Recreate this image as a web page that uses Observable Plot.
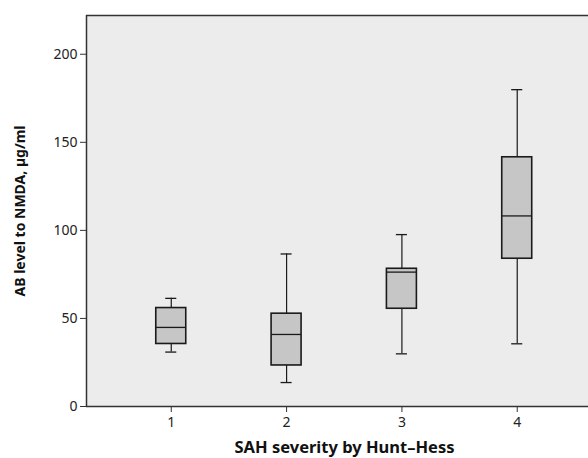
<!DOCTYPE html>
<html>
<head>
<meta charset="utf-8">
<script src="https://cdn.jsdelivr.net/npm/d3@7"></script>
<script src="https://cdn.jsdelivr.net/npm/@observablehq/plot@0.6"></script>
<style>
  html, body { margin: 0; padding: 0; background: #fff; }
  #chart svg { display: block; }
</style>
</head>
<body>
<div id="chart"></div>
<script>
// Hunt–Hess grade categories
const grades = [1, 2, 3, 4];
// Box-plot statistics (µg/ml)
const whiskerLow  = [30.9, 13.6, 29.9, 35.6];
const q1          = [35.5, 23.3, 55.5, 83.9];
const median      = [44.9, 40.9, 76.3, 108.2];
const q3          = [55.9, 52.7, 78.2, 141.5];
const whiskerHigh = [61.4, 86.6, 97.6, 179.9];
const yTicks = [0, 50, 100, 150, 200];
const xLabel = "SAH severity by Hunt\u2013Hess";
const yLabel = "AB level to NMDA, \u00b5g/ml";

const boxHalf = 0.13;   // half box width in grade units
const capHalf = 0.048;  // half whisker-cap width in grade units

const data = grades.map((g, i) => ({
  g, lo: whiskerLow[i], q1: q1[i], med: median[i], q3: q3[i], hi: whiskerHigh[i]
}));

const font = "'Noto Sans', 'Open Sans', sans-serif";
const ink = "#1a1a1a";

const chart = Plot.plot({
  width: 588,
  height: 458,
  marginLeft: 86,
  marginTop: 15,
  marginRight: 0,
  marginBottom: 52,
  style: { fontFamily: font, fontSize: "14px", color: "#222", background: "#fff" },
  x: { domain: [0.265, 4.618] },
  y: { domain: [0, 222] },
  marks: [
    Plot.frame({ fill: "#ececec", stroke: "none" }),
    Plot.ruleY([222], { stroke: "#333", strokeWidth: 1.5 }),
    Plot.ruleX([0.265], { stroke: "#333", strokeWidth: 1.5 }),
    Plot.ruleY([0], { stroke: "#333", strokeWidth: 1.5 }),
    // whiskers
    Plot.ruleX(data, { x: "g", y1: "lo", y2: "hi", stroke: ink, strokeWidth: 1.2 }),
    // caps
    Plot.ruleY(data, { y: "lo", x1: d => d.g - capHalf, x2: d => d.g + capHalf, stroke: ink, strokeWidth: 1.3 }),
    Plot.ruleY(data, { y: "hi", x1: d => d.g - capHalf, x2: d => d.g + capHalf, stroke: ink, strokeWidth: 1.3 }),
    // boxes
    Plot.rect(data, { x1: d => d.g - boxHalf, x2: d => d.g + boxHalf, y1: "q1", y2: "q3", fill: "#c6c6c6", stroke: ink, strokeWidth: 1.6 }),
    // medians
    Plot.ruleY(data, { y: "med", x1: d => d.g - boxHalf, x2: d => d.g + boxHalf, stroke: ink, strokeWidth: 1.3 }),
    Plot.axisY({ ticks: yTicks, tickSize: 6, tickPadding: 3, label: null, fontSize: 14, stroke: "#333" }),
    Plot.axisX({ ticks: grades, tickFormat: d3.format("d"), tickSize: 6, tickPadding: 5, label: null, fontSize: 14, stroke: "#333" }),
    Plot.text([xLabel], { frameAnchor: "bottom", textAnchor: "middle", lineAnchor: "middle", dy: 41, dx: 7, fontWeight: "bold", fontSize: 16.5, fill: "#111" }),
    Plot.text([yLabel], { frameAnchor: "left", textAnchor: "middle", lineAnchor: "middle", rotate: -90, dx: -66, fontWeight: "bold", fontSize: 14, fill: "#111" })
  ]
});

document.getElementById("chart").appendChild(chart);
</script>
</body>
</html>
